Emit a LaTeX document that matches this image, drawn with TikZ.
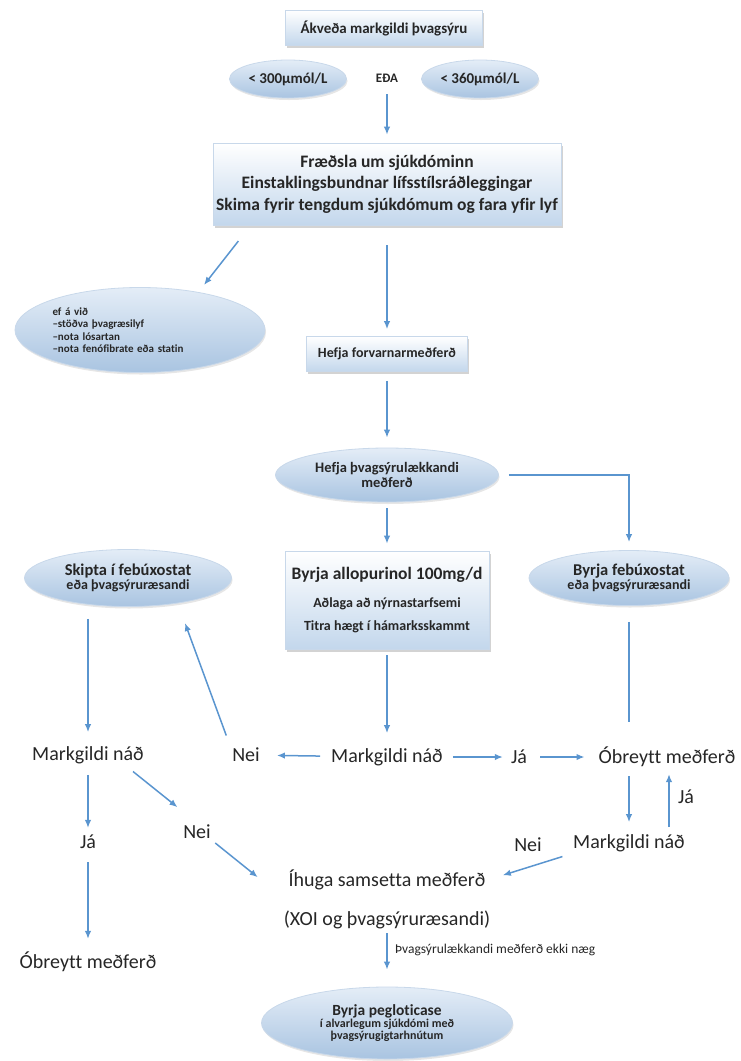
\documentclass[tikz,border=0pt]{standalone}
\usepackage{fontspec}
\setmainfont{Carlito}[Ligatures=CommonOff]
\usetikzlibrary{positioning,calc,shapes.geometric,arrows.meta,shadows}
\definecolor{cArrow}{HTML}{5A95CF}
\definecolor{cInk}{HTML}{262626}
\definecolor{cBoxB}{HTML}{C3D7EC}
\definecolor{cEllT}{HTML}{E4EDF7}
\definecolor{cEllB}{HTML}{A9C4E1}
\definecolor{cEdge}{HTML}{C8D8EA}
\newcommand{\fsz}[2]{\fontsize{#1}{#2}\selectfont}
\tikzset{
  bx/.style={rectangle,draw=cEdge,line width=0.6pt,top color=white,bottom color=cBoxB,text=cInk,font=\bfseries,align=center,inner sep=2pt,drop shadow={opacity=0.35,shadow xshift=1.5pt,shadow yshift=-2.5pt}},
  ell/.style={ellipse,draw=cEdge,line width=0.8pt,top color=cEllT,bottom color=cEllB,text=cInk,font=\bfseries,align=center,inner sep=0pt,drop shadow={opacity=0.2,shadow xshift=1pt,shadow yshift=-2pt}},
  lbl/.style={text=cInk,font=\fsz{20}{24},inner sep=2pt},
  arr/.style={-{Latex[length=8pt,width=6.5pt]},line width=1.5pt,cArrow},
  ln/.style={line width=1.5pt,cArrow},
}

\begin{document}
\begin{tikzpicture}[x=1pt,y=-1pt]
      \useasboundingbox (0,0) rectangle (741,1061);
      % top of the chart
      \node[bx,minimum width=197pt,minimum height=35pt,font=\bfseries\fsz{15}{18}] (goal) at (384,28) {Ákveða markgildi þvagsýru};
      \node[ell,minimum width=117pt,minimum height=38pt,font=\bfseries\fsz{15}{18}] (lo) at (288,79) {< 300µmól/L};
      \node[lbl,font=\bfseries\fsz{13}{15}] (eda) at (387,78) {EÐA};
      \node[ell,minimum width=117pt,minimum height=38pt,font=\bfseries\fsz{15}{18}] (hi) at (480,79) {< 360µmól/L};
      \node[bx,minimum width=348pt,minimum height=82pt,inner sep=0pt,font=\bfseries\fsz{17.5}{21.5}] (info) at (387,184)
        {Fræðsla um sjúkdóminn\\Einstaklingsbundnar lífsstílsráðleggingar\\Skima fyrir tengdum sjúkdómum og fara yfir lyf};
      \node[ell,minimum width=250pt,minimum height=85pt,text width=175pt,align=left,font=\bfseries\fsz{11}{12.5}] (adv) at (140,330)
        {ef á við\\–stöðva þvagræsilyf\\–nota lósartan\\–nota fenófibrate eða statin};
      \node[bx,minimum width=161pt,minimum height=35pt,font=\bfseries\fsz{14}{17}] (prev) at (387,354) {Hefja forvarnarmeðferð};
      \node[ell,minimum width=223pt,minimum height=54pt,font=\bfseries\fsz{14.5}{15}] (ult) at (387,475) {Hefja þvagsýrulækkandi\\meðferð};
      % three ways to start
      \node[ell,minimum width=207pt,minimum height=57pt] (febL) at (128,578)
        {{\fsz{16.5}{16}Skipta í febúxostat}\\{\fsz{14}{14}eða þvagsýruræsandi}};
      \node[bx,minimum width=204pt,minimum height=98pt] (allo) at (387,600)
        {{\fsz{17.5}{20}Byrja allopurinol 100mg/d}\\[14pt]{\fsz{14}{16}Aðlaga að nýrnastarfsemi}\\[10pt]{\fsz{14}{16}Titra hægt í hámarksskammt}};
      \node[ell,minimum width=200pt,minimum height=55pt] (febR) at (629,578)
        {{\fsz{16.5}{16}Byrja febúxostat}\\{\fsz{14}{14}eða þvagsýruræsandi}};
      % follow up
      \node[lbl] (mL) at (88,755) {Markgildi náð};
      \node[lbl] (neiA) at (246,755) {Nei};
      \node[lbl] (mC) at (387,757) {Markgildi náð};
      \node[lbl] (jaA) at (519,757) {Já};
      \node[lbl] (same) at (667,757) {Óbreytt meðferð};
      \node[lbl] (jaL) at (88,842) {Já};
      \node[lbl] (neiB) at (197,832) {Nei};
      \node[lbl] (jaR) at (686,797) {Já};
      \node[lbl] (mR) at (629,843) {Markgildi náð};
      \node[lbl] (neiC) at (528,845) {Nei};
      \node[lbl] (combo) at (387,880) {Íhuga samsetta meðferð};
      \node[lbl] (combo2) at (387,920) {(XOI og þvagsýruræsandi)};
      \node[lbl] (obL) at (88,962) {Óbreytt meðferð};
      \node[lbl,anchor=west,font=\fsz{13.5}{15}] (insuf) at (393,950) {Þvagsýrulækkandi meðferð ekki næg};
      \node[ell,minimum width=251pt,minimum height=72pt] (peg) at (387,1023)
        {{\fsz{15.5}{16}Byrja pegloticase}\\{\fsz{12}{13}í alvarlegum sjúkdómi með}\\{\fsz{12}{13}þvagsýrugigtarhnútum}};
      % straight arrows
      \foreach \a/\b/\p/\q in {eda/info/10pt/8pt,info/prev/20pt/7pt,prev/ult/9pt/10pt,ult/allo/6pt/7pt,
                               allo/mC/6pt/13pt,mL/jaL/9pt/5pt,jaL/obL/11pt/11pt,combo2/peg/2pt/17pt,
                               mC/neiA/9pt/15pt,mC/jaA/8pt/6pt,jaA/same/11pt/12pt}
        \draw[arr,shorten <=\p,shorten >=\q] (\a)--(\b);
      % the rest
      \draw[arr,shorten <=20pt,shorten >=9pt] ([xshift=38pt]info.south west) -- (adv.33);
      \draw[arr,shorten <=10pt,shorten >=8pt] (ult.east) -| (febR.north);
      \draw[arr,shorten <=12pt,shorten >=12pt] (febL.south -| mL.north) -- (mL.north);
      \draw[arr,shorten <=11pt,shorten >=21pt] (neiA.north west) -- (febL.-27);
      \draw[ln,shorten <=16pt,shorten >=23pt] (febR.south) -- (febR.south |- same.north);
      \draw[arr,shorten <=7pt,shorten >=10pt] (same.south -| mR.north) -- (mR.north);
      \draw[arr,shorten <=5pt,shorten >=5pt] ([xshift=40pt]mR.north) -- ([xshift=40pt]mR.north |- same.south);
      \draw[arr,shorten <=9pt,shorten >=16pt] (mR.south west) -- (combo.east);
      \draw[arr,shorten <=9pt,shorten >=25pt] ([xshift=-20pt]mL.south east) -- (neiB.north);
      \draw[arr,shorten <=3pt,shorten >=24pt] (neiB.south east) -- ([xshift=-10pt]combo.south west);
    \end{tikzpicture}
\end{document}
